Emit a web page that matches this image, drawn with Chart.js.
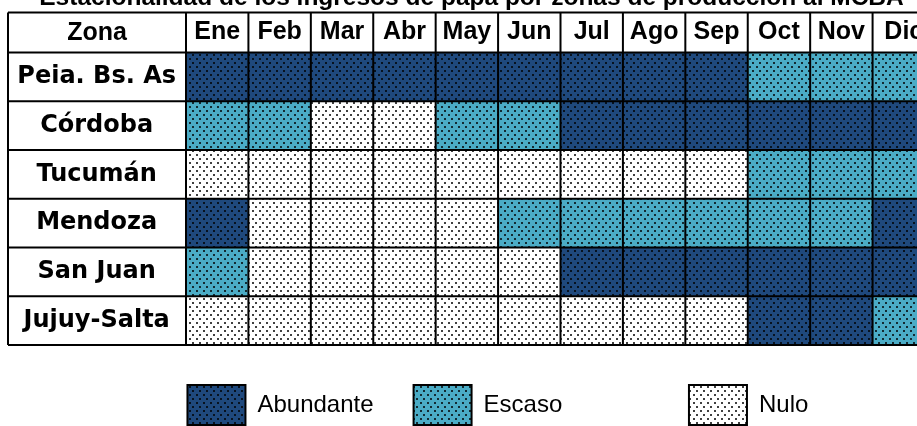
<!DOCTYPE html>
<html>
<head>
<meta charset="utf-8">
<title>Estacionalidad papa MCBA</title>
<script src="https://cdn.jsdelivr.net/npm/chart.js@4"></script>
<style>
  html, body { margin: 0; padding: 0; background: #fff; overflow: hidden; }
  .graphContainer { position: absolute; left: 0; top: -14px; width: 940px; height: 451px; }
</style>
</head>
<body>
<div class="graphContainer">
  <canvas id="myChart"></canvas>
</div>
<script>
// Data
const meses = ['Ene', 'Feb', 'Mar', 'Abr', 'May', 'Jun', 'Jul', 'Ago', 'Sep', 'Oct', 'Nov', 'Dic'];
const zonas = ['Peia. Bs. As', 'Córdoba', 'Tucumán', 'Mendoza', 'San Juan', 'Jujuy-Salta'];
const categorias = ['Abundante', 'Escaso', 'Nulo'];

// estado por mes: 0 = Abundante, 1 = Escaso, 2 = Nulo
const pciaBsAs = [0, 0, 0, 0, 0, 0, 0, 0, 0, 1, 1, 1];
const cordoba  = [1, 1, 2, 2, 1, 1, 0, 0, 0, 0, 0, 0];
const tucuman  = [2, 2, 2, 2, 2, 2, 2, 2, 2, 1, 1, 1];
const mendoza  = [0, 2, 2, 2, 2, 1, 1, 1, 1, 1, 1, 0];
const sanJuan  = [1, 2, 2, 2, 2, 2, 0, 0, 0, 0, 0, 0];
const jujuySalta = [2, 2, 2, 2, 2, 2, 2, 2, 2, 0, 0, 1];

const estados = [pciaBsAs, cordoba, tucuman, mendoza, sanJuan, jujuySalta];
const colores = ['#1f497d', '#4bacc6', '#ffffff'];

// dotted fill like the excel pattern
function makePattern(color) {
  const c = document.createElement('canvas');
  c.width = 7;
  c.height = 8;
  const g = c.getContext('2d');
  g.fillStyle = color;
  g.fillRect(0, 0, 7, 8);
  g.fillStyle = 'rgba(0,0,0,0.75)';
  g.fillRect(0, 0, 2, 2);
  g.fillRect(3, 4, 2, 2);
  return g.createPattern(c, 'repeat');
}
const patrones = colores.map(makePattern);

const tablaBordes = {
  id: 'tablaBordes',
  afterDatasetsDraw(chart) {
    const { ctx, chartArea, scales: { x, y } } = chart;
    const izq = y.left;
    const arriba = x.top;
    const der = chartArea.right;
    const abajo = chartArea.bottom;
    const line = (x1, y1, x2, y2) => {
      ctx.beginPath();
      ctx.moveTo(x1, y1);
      ctx.lineTo(x2, y2);
      ctx.stroke();
    };
    ctx.save();
    ctx.strokeStyle = '#000';
    ctx.lineWidth = 2;
    line(izq, arriba, izq, abajo);
    line(chartArea.left, arriba, chartArea.left, abajo);
    meses.forEach((m, i) => {
      const px = x.getPixelForValue(i + 1);
      line(px, arriba, px, abajo);
    });
    line(izq, arriba, der, arriba);
    const rowH = chartArea.height / zonas.length;
    for (let k = 0; k <= zonas.length; k++) {
      const yy = chartArea.top + k * rowH;
      line(izq, yy, der, yy);
    }
    ctx.fillStyle = '#000';
    ctx.font = 'bold 25px "Liberation Sans"';
    ctx.textAlign = 'center';
    ctx.textBaseline = 'middle';
    ctx.fillText('Zona', (izq + chartArea.left) / 2, (arriba + chartArea.top) / 2 + 1);
    ctx.restore();
  }
};

const datasets = meses.map((mes, i) => ({
  label: mes,
  data: zonas.map(() => 1),
  backgroundColor: estados.map(fila => patrones[fila[i]]),
  borderWidth: 0,
  barPercentage: 1,
  categoryPercentage: 1,
}));

// trailing spaces only to space the legend entries like the original
const legendPad = ['', ' '.repeat(13), ' '.repeat(13)];

new Chart(document.getElementById('myChart').getContext('2d'), {
  type: 'bar',
  data: { labels: zonas, datasets: datasets },
  plugins: [tablaBordes],
  options: {
    indexAxis: 'y',
    responsive: true,
    maintainAspectRatio: false,
    animation: false,
    layout: { padding: { left: 8, right: 5, top: 0, bottom: 2 } },
    scales: {
      x: {
        type: 'linear',
        position: 'top',
        stacked: true,
        min: 0,
        max: meses.length,
        grid: { display: false, drawTicks: false },
        border: { display: false },
        afterBuildTicks: axis => {
          axis.ticks = meses.map((m, i) => ({ value: i + 0.5 }));
        },
        afterFit: axis => { axis.height = 40; },
        ticks: {
          autoSkip: false,
          maxRotation: 0,
          padding: 5,
          color: '#000',
          font: { family: '"Liberation Sans"', size: 25, weight: 'bold' },
          callback: (v, idx) => meses[idx],
        },
      },
      y: {
        stacked: true,
        grid: { display: false },
        border: { display: false },
        afterFit: axis => { axis.width = 178; },
        ticks: {
          crossAlign: 'center',
          padding: 2,
          color: '#000',
          font: { family: '"DejaVu Sans"', size: 24, weight: 'bold' },
        },
      },
    },
    plugins: {
      title: {
        display: true,
        text: 'Estacionalidad de los ingresos de papa por zonas de producción al MCBA',
        color: '#000',
        font: { family: '"Liberation Sans"', size: 24.5, weight: 'bold', lineHeight: 1 },
        padding: { top: 0, bottom: 2 },
      },
      legend: {
        position: 'bottom',
        align: 'end',
        labels: {
          boxWidth: 58,
          boxHeight: 40,
          padding: 40,
          color: '#000',
          font: { family: '"Liberation Sans"', size: 24 },
          generateLabels: () => categorias.map((c, i) => ({
            text: c + legendPad[i],
            fillStyle: patrones[i],
            strokeStyle: '#000',
            lineWidth: 2,
            hidden: false,
            datasetIndex: 0,
          })),
        },
        onClick: () => {},
      },
      tooltip: { enabled: false },
    },
  },
});
</script>
</body>
</html>
